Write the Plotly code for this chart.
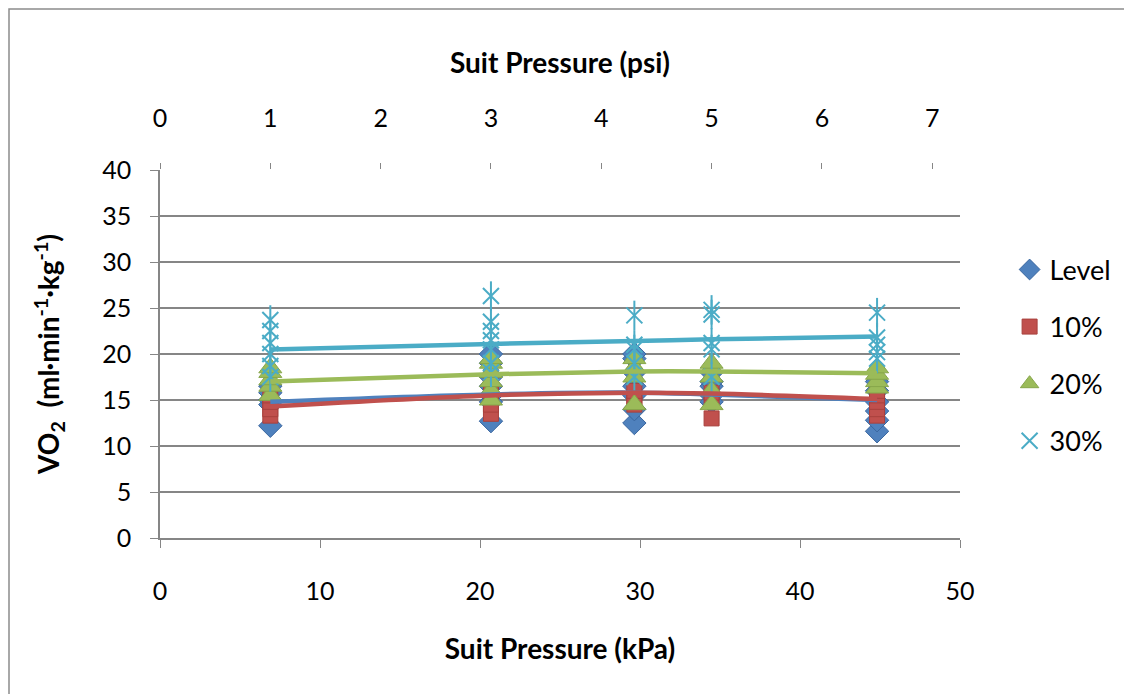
import plotly.graph_objects as go

KPA_PER_PSI = 6.89476

# Suit pressures (psi) of the test conditions
pressures_psi = [1.0, 3.0, 4.3, 5.0, 6.5]

# VO2 values per condition (ml/min/kg)
level_vals = [
    [12.2, 14.5, 15.0, 15.8, 16.5],
    [12.7, 14.8, 15.5, 16.5, 17.5, 19.0, 20.0],
    [12.5, 14.0, 15.5, 16.5, 18.0, 19.5, 20.0],
    [14.8, 15.5, 16.5, 17.0, 18.0],
    [11.6, 12.8, 13.8, 14.8, 16.0, 17.0],
]
g10_vals = [
    [13.3, 14.0, 14.8, 15.5],
    [13.5, 14.5, 15.5, 16.5, 17.5],
    [14.5, 15.3, 16.0],
    [13.0, 15.0, 15.8],
    [13.3, 14.0, 14.8, 15.5, 16.0],
]
g20_vals = [
    [15.5, 16.5, 17.2, 18.0, 18.5],
    [15.0, 16.0, 17.0, 18.0, 19.0, 19.5],
    [14.5, 17.5, 18.5, 19.5],
    [14.5, 16.0, 17.5, 18.5, 19.0],
    [16.3, 17.0, 17.8, 18.5],
]
g30_vals = [
    [17.5, 18.7, 20.0, 21.2, 22.5, 23.7],
    [18.0, 19.0, 20.5, 21.5, 22.5, 23.5, 26.3],
    [17.5, 19.0, 20.5, 21.0, 24.2],
    [17.5, 20.5, 21.2, 24.3, 24.8],
    [19.5, 20.2, 21.0, 21.8, 24.5],
]

# Trendline values at each pressure
level_trend = [14.8, 15.6, 15.8, 15.6, 15.0]
g10_trend = [14.3, 15.5, 15.8, 15.7, 15.1]
g20_trend = [17.0, 17.8, 18.1, 18.1, 17.9]
g30_trend = [20.5, 21.1, 21.4, 21.6, 21.9]

series_names = ["Level", "10%", "20%", "30%"]
colors = ["#4F81BD", "#C0504D", "#9BBB59", "#4BACC6"]
edge = ["#3A67A0", "#A8403D", "#86A64A", "#3A9AB4"]

x_kpa = [p * KPA_PER_PSI for p in pressures_psi]


def flatten(vals):
    xs, ys = [], []
    for xk, group in zip(x_kpa, vals):
        for v in group:
            xs.append(xk)
            ys.append(v)
    return xs, ys


fig = go.Figure()
specs = [
    (level_vals, "diamond", 18),
    (g10_vals, "square", 15),
    (g20_vals, "triangle-up", 20),
]
for i, (vals, sym, sz) in enumerate(specs):
    xs, ys = flatten(vals)
    fig.add_trace(go.Scatter(
        x=xs, y=ys, mode="markers", name=series_names[i],
        legendgroup=series_names[i], cliponaxis=False,
        marker=dict(symbol=sym, size=sz, color=colors[i],
                    line=dict(color=edge[i], width=1))))

# 30%: six-armed star = thin x + vertical bar
xs, ys = flatten(g30_vals)
fig.add_trace(go.Scatter(
    x=xs, y=ys, mode="markers", name=series_names[3], legendgroup=series_names[3],
    cliponaxis=False,
    marker=dict(symbol="x-thin-open", size=16, color=colors[3],
                line=dict(color=colors[3], width=2))))
fig.add_trace(go.Scatter(
    x=xs, y=ys, mode="markers", showlegend=False, legendgroup=series_names[3],
    cliponaxis=False, hoverinfo="skip",
    marker=dict(symbol="line-ns-open", size=21, color=colors[3],
                line=dict(color=colors[3], width=2))))

for i, tr in enumerate([level_trend, g10_trend, g20_trend, g30_trend]):
    fig.add_trace(go.Scatter(x=x_kpa, y=tr, mode="lines", showlegend=False,
                             line=dict(color=colors[i], width=4.5, shape="spline"),
                             hoverinfo="skip"))

# invisible trace on top (psi) axis
fig.add_trace(go.Scatter(x=[0, 7], y=[None, None], xaxis="x2", yaxis="y",
                         showlegend=False, hoverinfo="skip", mode="markers"))

font_family = "Lato, 'Open Sans', sans-serif"
grid_col = "#868686"

# page body has an 8px margin: figure origin at (8, 8) of the window
fig.update_layout(
    width=1124, height=686,
    margin=dict(l=152, r=172, t=162, b=156),
    paper_bgcolor="white", plot_bgcolor="white",
    font=dict(family=font_family, size=25, color="black"),
    showlegend=True,
    legend=dict(x=1.062, y=0.795, xanchor="left", yanchor="top",
                font=dict(size=27), tracegroupgap=19,
                traceorder="grouped", itemsizing="trace",
                bgcolor="rgba(0,0,0,0)"),
    xaxis=dict(range=[0, 50], tickvals=[0, 10, 20, 30, 40, 50],
               showgrid=False, zeroline=False, showline=True,
               linecolor=grid_col, linewidth=1.5,
               ticks="outside", ticklen=8, tickcolor=grid_col,
               ticklabelstandoff=22,
               title=dict(text="<b>Suit Pressure (kPa)</b>", standoff=36,
                          font=dict(size=28))),
    xaxis2=dict(range=[0, 50 / KPA_PER_PSI], tickvals=[0, 1, 2, 3, 4, 5, 6, 7],
                overlaying="x", side="top", anchor="y",
                showgrid=False, zeroline=False, showline=False,
                ticks="outside", ticklen=6, tickcolor=grid_col,
                ticklabelstandoff=26,
                title=dict(text="<b>Suit Pressure (psi)</b>", standoff=20,
                           font=dict(size=28))),
    yaxis=dict(range=[0, 40], tickvals=[0, 5, 10, 15, 20, 25, 30, 35, 40],
               showgrid=True, gridcolor=grid_col, gridwidth=1.5,
               zeroline=False, showline=True, linecolor=grid_col, linewidth=1.5,
               ticks="outside", ticklen=8, tickcolor=grid_col,
               ticklabelstandoff=14,
               title=dict(text="<b>VO<sub>2</sub>  (ml·min<sup>-1</sup>·kg<sup>-1</sup>)</b>",
                          standoff=34, font=dict(size=28))),
    shapes=[dict(type="rect", xref="paper", yref="paper",
                 x0=(1 - 152) / 800, x1=(1140 - 152) / 800,
                 y0=(530 - 700) / 368, y1=(530 - 1) / 368,
                 line=dict(color="#8C8C8C", width=1.5), fillcolor="rgba(0,0,0,0)",
                 layer="below")],
)

fig.write_html("out.html")
